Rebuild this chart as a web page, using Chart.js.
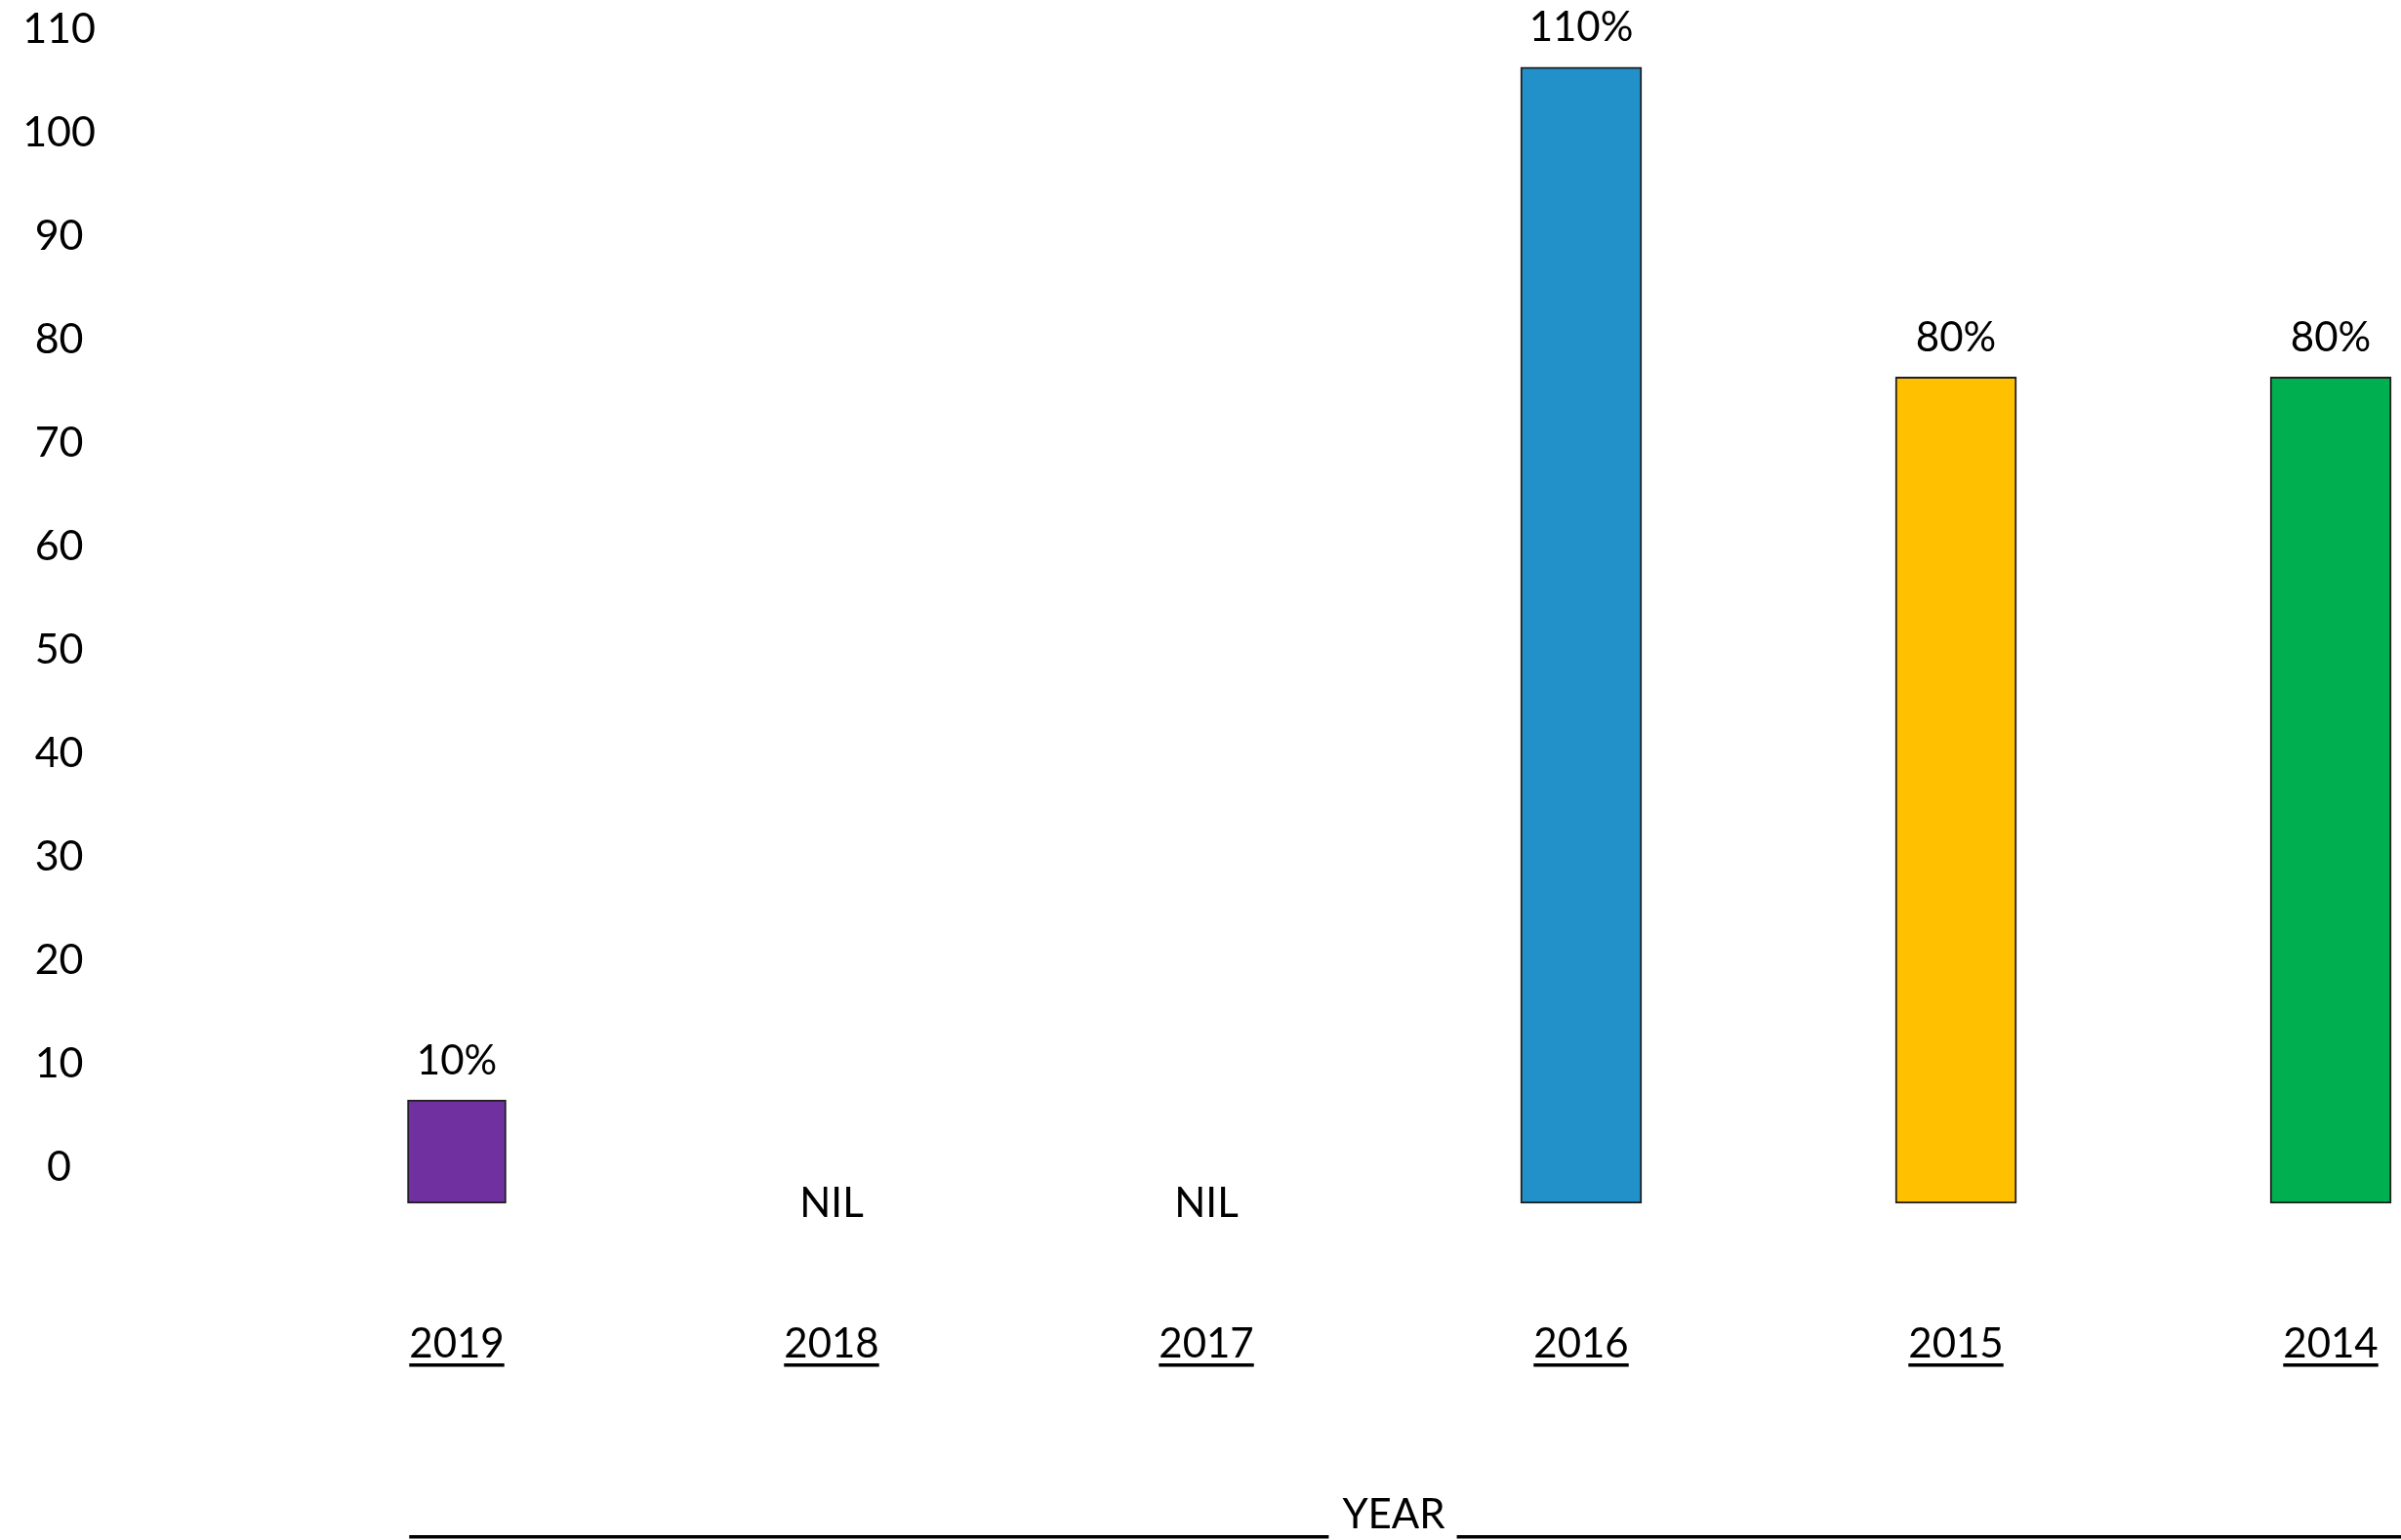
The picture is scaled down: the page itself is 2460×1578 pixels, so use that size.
<!DOCTYPE html>
<html>
<head>
<meta charset="utf-8">
<script src="https://cdn.jsdelivr.net/npm/chart.js@4.4.4/dist/chart.umd.min.js"></script>
<style>
  html, body { margin: 0; padding: 0; background: #fff; }
  #chart { display: block; }
</style>
</head>
<body>
<canvas id="chart" width="2460" height="1578"></canvas>
<script>
  // values
  const YEARS = ['2019', '2018', '2017', '2016', '2015', '2014'];
  const VALUES = [10, null, null, 110, 80, 80];
  const VALUE_LABELS = ['10%', 'NIL', 'NIL', '110%', '80%', '80%'];
  const Y_TICKS = [0, 10, 20, 30, 40, 50, 60, 70, 80, 90, 100, 110];
  const BAR_COLORS = ['#7030a0', null, null, '#2291c9', '#ffc000', '#00b050'];
  const NARROW_YEARS = ['2019'];
  const AXIS_TITLE = 'YEAR';

  const FONT = 'Lato';
  const TEXT_SIZE = 42;

  function pick(keep) {
    return VALUES.map(function (v, i) { return keep(YEARS[i]) ? v : null; });
  }

  function barSet(data, thickness) {
    return {
      data: data,
      yAxisID: 'yBars',
      grouped: false,
      clip: false,
      barThickness: thickness,
      backgroundColor: BAR_COLORS,
      borderColor: '#1f1f1f',
      borderWidth: 2,
      borderSkipped: false
    };
  }

  // value labels, NIL markers, underlined years and the YEAR rule
  const decorations = {
    id: 'decorations',
    afterDraw: function (chart) {
      const ctx = chart.ctx;
      const x = chart.scales.x;
      const yb = chart.scales.yBars;
      ctx.save();
      ctx.fillStyle = '#000';
      ctx.strokeStyle = '#000';
      ctx.textAlign = 'center';
      ctx.textBaseline = 'middle';
      ctx.font = TEXT_SIZE + 'px ' + FONT;

      VALUE_LABELS.forEach(function (txt, i) {
        const px = x.getPixelForValue(i);
        const v = VALUES[i];
        const py = v == null ? yb.getPixelForValue(0) : yb.getPixelForValue(v) - 40;
        ctx.fillText(txt, px, py);
      });

      // underline the year tick labels
      const labelMid = x.top + x.options.ticks.padding + TEXT_SIZE * 0.6;
      ctx.lineWidth = 3.5;
      YEARS.forEach(function (yr, i) {
        const px = x.getPixelForValue(i);
        const w = ctx.measureText(yr).width;
        ctx.beginPath();
        ctx.moveTo(px - w / 2, labelMid + 21.5);
        ctx.lineTo(px + w / 2, labelMid + 21.5);
        ctx.stroke();
      });

      // ______ YEAR ______
      const titleMid = x.bottom - TEXT_SIZE * 0.6;
      const titleX = (x.left + x.right) / 2;
      const tw = ctx.measureText(AXIS_TITLE).width;
      const firstW = ctx.measureText(YEARS[0]).width;
      const ruleY = titleMid + 22;
      ctx.beginPath();
      ctx.moveTo(x.getPixelForValue(0) - firstW / 2, ruleY);
      ctx.lineTo(titleX - tw / 2 - 14, ruleY);
      ctx.moveTo(titleX + tw / 2 + 12, ruleY);
      ctx.lineTo(chart.width, ruleY);
      ctx.stroke();
      ctx.restore();
    }
  };

  new Chart(document.getElementById('chart'), {
    type: 'bar',
    data: {
      labels: YEARS,
      datasets: [
        barSet(pick(function (y) { return NARROW_YEARS.indexOf(y) >= 0; }), 101),
        barSet(pick(function (y) { return NARROW_YEARS.indexOf(y) < 0; }), 124)
      ]
    },
    options: {
      responsive: false,
      animation: false,
      devicePixelRatio: 1,
      layout: { padding: { left: 0, right: 72, top: 0, bottom: 0 } },
      plugins: { legend: { display: false }, tooltip: { enabled: false } },
      scales: {
        x: {
          type: 'category',
          offset: false,
          grid: { display: false, drawTicks: false },
          border: { display: false },
          ticks: {
            color: '#000',
            font: { family: FONT, size: TEXT_SIZE },
            padding: 119,
            maxRotation: 0,
            autoSkip: false
          },
          title: {
            display: true,
            text: AXIS_TITLE,
            color: '#000',
            font: { family: FONT, size: TEXT_SIZE },
            padding: 0
          },
          afterFit: function (s) {
            s.height = 345;
            s.paddingLeft = 0;
            s.paddingRight = 0;
          }
        },
        y: {
          position: 'left',
          min: -3.49,
          max: 112.83,
          grid: { display: false, drawTicks: false },
          border: { display: false },
          afterBuildTicks: function (s) {
            s.ticks = Y_TICKS.map(function (v) { return { value: v }; });
          },
          ticks: {
            crossAlign: 'center',
            padding: 370,
            color: '#000',
            font: { family: FONT, size: 43 }
          },
          afterFit: function (s) {
            s.width = 468;
            s.paddingTop = 0;
            s.paddingBottom = 0;
          }
        },
        yBars: {
          display: false,
          min: 0,
          max: 116.5
        }
      }
    },
    plugins: [decorations]
  });
</script>
</body>
</html>
